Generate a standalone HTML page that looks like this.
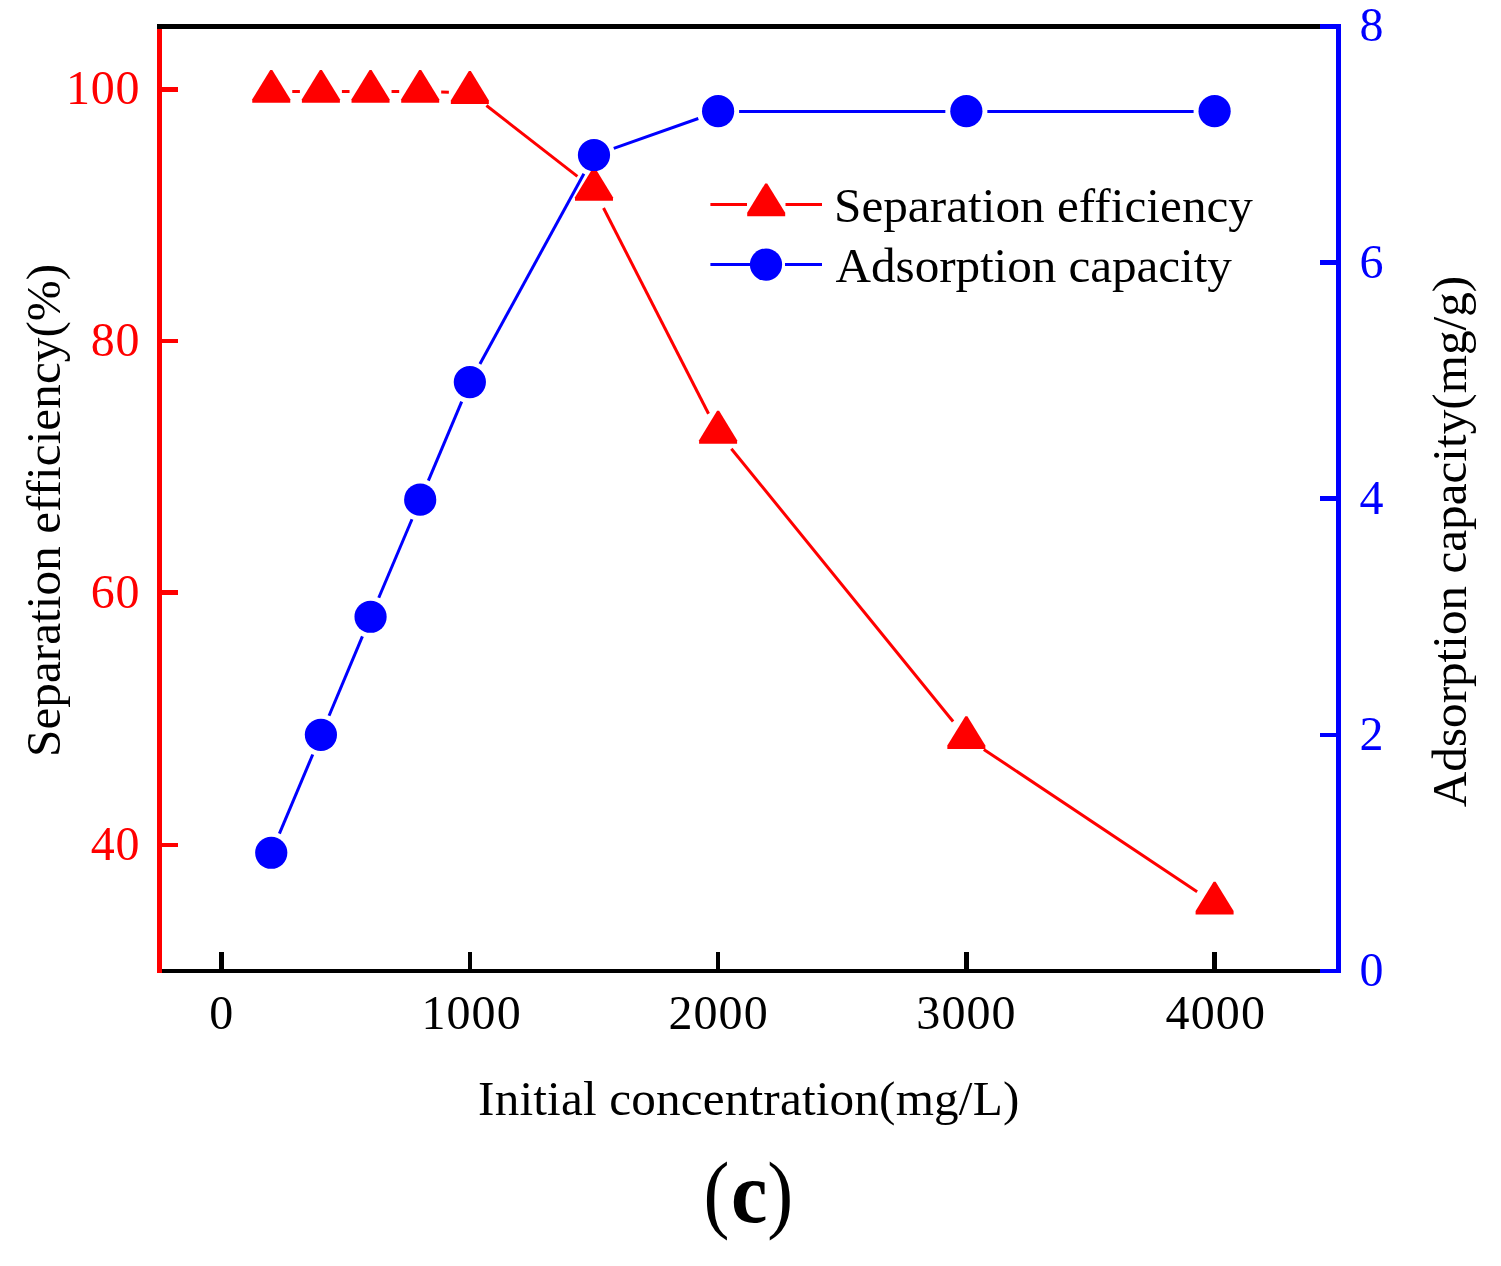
<!DOCTYPE html>
<html><head><meta charset="utf-8"><title>Figure (c)</title>
<style>
html,body{margin:0;padding:0;background:#fff;}
svg{display:block;}
text{font-family:"Liberation Serif",serif;font-size:48px;font-variant-ligatures:none;}
</style></head><body>
<svg width="1501" height="1266" viewBox="0 0 1501 1266">
<rect width="1501" height="1266" fill="#fff"/>
<g shape-rendering="crispEdges">
<rect x="157" y="24" width="1184" height="5" fill="#000"/>
<rect x="157" y="969" width="1184" height="4" fill="#000"/>
<rect x="219" y="952" width="5" height="18" fill="#000"/>
<rect x="468" y="952" width="4" height="18" fill="#000"/>
<rect x="716" y="952" width="4" height="18" fill="#000"/>
<rect x="964" y="952" width="5" height="18" fill="#000"/>
<rect x="1212" y="952" width="5" height="18" fill="#000"/>
<rect x="157" y="24" width="5" height="949" fill="#f00"/>
<rect x="157" y="24" width="5" height="5" fill="#000"/>
<rect x="160" y="87" width="18" height="5" fill="#f00"/>
<rect x="160" y="339" width="18" height="4" fill="#f00"/>
<rect x="160" y="590" width="18" height="5" fill="#f00"/>
<rect x="160" y="843" width="18" height="4" fill="#f00"/>
<rect x="1336" y="24" width="5" height="949" fill="#00f"/>
<rect x="1320" y="24" width="18" height="5" fill="#00f"/>
<rect x="1320" y="260" width="18" height="5" fill="#00f"/>
<rect x="1320" y="496" width="18" height="5" fill="#00f"/>
<rect x="1320" y="733" width="18" height="4" fill="#00f"/>
<rect x="1320" y="969" width="18" height="4" fill="#00f"/>
</g>
<g>
<line x1="292.25" y1="91.50" x2="299.90" y2="91.50" stroke="#f00" stroke-width="3"/>
<line x1="341.90" y1="91.50" x2="349.55" y2="91.50" stroke="#f00" stroke-width="3"/>
<line x1="391.55" y1="91.50" x2="399.20" y2="91.50" stroke="#f00" stroke-width="3"/>
<line x1="441.19" y1="91.98" x2="448.86" y2="92.15" stroke="#f00" stroke-width="3"/>
<line x1="486.42" y1="105.53" x2="577.41" y2="176.42" stroke="#f00" stroke-width="3"/>
<line x1="603.52" y1="208.02" x2="708.55" y2="413.73" stroke="#f00" stroke-width="3"/>
<line x1="731.35" y1="448.73" x2="953.10" y2="721.45" stroke="#f00" stroke-width="3"/>
<line x1="983.82" y1="749.39" x2="1197.13" y2="891.65" stroke="#f00" stroke-width="3"/>
<polygon points="270.25,69.92 272.25,69.92 290.25,99.32 290.25,102.82 252.25,102.82 252.25,99.32" fill="#f00"/>
<polygon points="319.90,69.92 321.90,69.92 339.90,99.32 339.90,102.82 301.90,102.82 301.90,99.32" fill="#f00"/>
<polygon points="369.55,69.92 371.55,69.92 389.55,99.32 389.55,102.82 351.55,102.82 351.55,99.32" fill="#f00"/>
<polygon points="419.20,69.92 421.20,69.92 439.20,99.32 439.20,102.82 401.20,102.82 401.20,99.32" fill="#f00"/>
<polygon points="468.85,71.05 470.85,71.05 488.85,100.45 488.85,103.95 450.85,103.95 450.85,100.45" fill="#f00"/>
<polygon points="592.98,167.74 594.98,167.74 612.98,197.14 612.98,200.64 574.98,200.64 574.98,197.14" fill="#f00"/>
<polygon points="717.10,410.85 719.10,410.85 737.10,440.25 737.10,443.75 699.10,443.75 699.10,440.25" fill="#f00"/>
<polygon points="965.35,716.16 967.35,716.16 985.35,745.56 985.35,749.06 947.35,749.06 947.35,745.56" fill="#f00"/>
<polygon points="1213.60,881.72 1215.60,881.72 1233.60,911.12 1233.60,914.62 1195.60,914.62 1195.60,911.12" fill="#f00"/>
<line x1="279.40" y1="833.70" x2="312.75" y2="754.47" stroke="#00f" stroke-width="3"/>
<line x1="329.04" y1="715.76" x2="362.41" y2="636.41" stroke="#00f" stroke-width="3"/>
<line x1="378.75" y1="597.72" x2="412.00" y2="519.27" stroke="#00f" stroke-width="3"/>
<line x1="428.37" y1="480.59" x2="461.68" y2="401.70" stroke="#00f" stroke-width="3"/>
<line x1="479.92" y1="363.93" x2="583.90" y2="173.75" stroke="#00f" stroke-width="3"/>
<line x1="613.78" y1="148.34" x2="698.30" y2="118.51" stroke="#00f" stroke-width="3"/>
<line x1="739.10" y1="111.52" x2="945.35" y2="111.52" stroke="#00f" stroke-width="3"/>
<line x1="987.35" y1="111.52" x2="1193.60" y2="111.52" stroke="#00f" stroke-width="3"/>
<circle cx="271.25" cy="852.76" r="16.1" fill="#00f"/>
<circle cx="320.90" cy="734.82" r="16.1" fill="#00f"/>
<circle cx="370.55" cy="616.76" r="16.1" fill="#00f"/>
<circle cx="420.20" cy="499.64" r="16.1" fill="#00f"/>
<circle cx="469.85" cy="382.05" r="16.1" fill="#00f"/>
<circle cx="593.98" cy="155.02" r="16.1" fill="#00f"/>
<circle cx="718.10" cy="111.22" r="16.1" fill="#00f"/>
<circle cx="966.35" cy="111.22" r="16.1" fill="#00f"/>
<circle cx="1214.60" cy="111.22" r="16.1" fill="#00f"/>
</g>
<g fill="#f00" text-anchor="end" letter-spacing="0.7">
<text x="140.2" y="104.0">100</text>
<text x="140.2" y="355.5">80</text>
<text x="140.2" y="607.5">60</text>
<text x="140.2" y="860.2">40</text>
</g>
<g fill="#00f">
<text x="1359.5" y="41.0">8</text>
<text x="1359.5" y="278.1">6</text>
<text x="1359.5" y="514.2">4</text>
<text x="1359.5" y="750.3">2</text>
<text x="1359.5" y="985.5">0</text>
</g>
<g fill="#000" text-anchor="middle" letter-spacing="1.1">
<text x="221.8" y="1028.5">0</text>
<text x="471.6" y="1028.5">1000</text>
<text x="718.6" y="1028.5">2000</text>
<text x="966.5" y="1028.5">3000</text>
<text x="1215.8" y="1028.5">4000</text>
</g>
<text id="xl" x="478.1" y="1114.8" style="font-size:49.2px" letter-spacing="0.17" fill="#000">Initial concentration(mg/L)</text>
<text id="yl" transform="translate(59.6,757) rotate(-90)" style="font-size:49.2px" letter-spacing="0.05" fill="#000">Separation efficiency(%)</text>
<text id="yr" transform="translate(1466.3,807.2) rotate(-90)" style="font-size:49.2px" letter-spacing="0" fill="#000">Adsorption capacity(mg/g)</text>
<line x1="710.4" y1="204.5" x2="747" y2="204.5" stroke="#f00" stroke-width="3"/>
<line x1="785.5" y1="204.5" x2="822" y2="204.5" stroke="#f00" stroke-width="3"/>
<polygon points="765.20,183.40 767.20,183.40 785.20,212.80 785.20,216.30 747.20,216.30 747.20,212.80" fill="#f00"/>
<text id="lg1" x="834" y="222.2" style="font-size:49.2px" letter-spacing="0.03" fill="#000">Separation efficiency</text>
<line x1="710.4" y1="264.5" x2="750" y2="264.5" stroke="#00f" stroke-width="3"/>
<line x1="785" y1="264.5" x2="822" y2="264.5" stroke="#00f" stroke-width="3"/>
<circle cx="766.00" cy="264.60" r="16.1" fill="#00f"/>
<text id="lg2" x="835.6" y="282.3" style="font-size:49.2px" letter-spacing="-0.07" fill="#000">Adsorption capacity</text>
<g id="cap" fill="#000">
<text transform="translate(703.5,1222) scale(0.905,1)" style="font-size:86px">(</text>
<text transform="translate(731,1222.2) scale(0.938,1)" style="font-size:87.5px;font-weight:bold">c</text>
<text transform="translate(767.3,1222) scale(0.905,1)" style="font-size:86px">)</text>
</g>
</svg>
</body></html>
